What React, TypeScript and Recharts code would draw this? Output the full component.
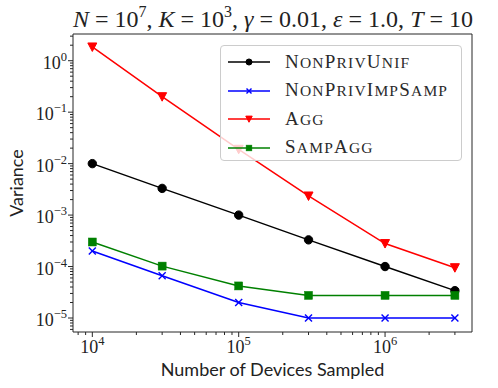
import React from "react";
import { LineChart, Line, XAxis, YAxis, Legend, ReferenceArea, Label } from "recharts";

// devices sampled (x) and the four variance series
const devices = [1e4, 3e4, 1e5, 3e5, 1e6, 3e6];
const nonPrivUnif = [1.0e-2, 3.3e-3, 1.0e-3, 3.3e-4, 1.0e-4, 3.4e-5];
const nonPrivImpSamp = [2.0e-4, 6.6e-5, 2.0e-5, 1.0e-5, 1.0e-5, 1.0e-5];
const agg = [1.85, 0.2, 0.019, 2.35e-3, 2.8e-4, 9.5e-5];
const sampAgg = [3.0e-4, 1.02e-4, 4.2e-5, 2.75e-5, 2.75e-5, 2.75e-5];

const xMajor = [1e4, 1e5, 1e6];
const yMajor = [1e-5, 1e-4, 1e-3, 1e-2, 1e-1, 1];

const xDomain: [number, number] = [Math.pow(10, 3.868), Math.pow(10, 6.594)];
const yDomain: [number, number] = [Math.pow(10, -5.272), Math.pow(10, 0.519)];

const data = devices.map((d, i) => ({
  devices: d,
  nonPrivUnif: nonPrivUnif[i],
  nonPrivImpSamp: nonPrivImpSamp[i],
  agg: agg[i],
  sampAgg: sampAgg[i],
}));

function minorTicks([lo, hi]: [number, number]) {
  const out: number[] = [];
  for (let e = Math.floor(Math.log10(lo)); e <= Math.ceil(Math.log10(hi)); e++) {
    for (let m = 2; m <= 9; m++) {
      const v = m * Math.pow(10, e);
      if (v >= lo && v <= hi) out.push(v);
    }
  }
  return out;
}

const SERIF = "'Liberation Serif', serif";
const SANS = "Lato, 'DejaVu Sans', sans-serif";
const AXIS = "#262626";

const expOf = (v: number) => Math.round(Math.log10(v));
const isMajor = (v: number) => Math.abs(v - Math.pow(10, expOf(v))) / v < 1e-6;
const expText = (e: number) => (e < 0 ? "\u2212" + Math.abs(e) : String(e));

function XTick(props: any) {
  const { x, y, payload } = props;
  const v = payload.value;
  const major = isMajor(v);
  return (
    <g>
      <line x1={x} x2={x} y1={y} y2={y + (major ? 5 : 3)} stroke={AXIS} strokeWidth={1} />
      {major && (
        <text x={x} y={y + 21} textAnchor="middle" fontFamily={SERIF} fontSize={18} fill="#222">
          10<tspan dy={-8} fontSize={12.5}>{expText(expOf(v))}</tspan>
        </text>
      )}
    </g>
  );
}

function YTick(props: any) {
  const { x, y, payload } = props;
  const v = payload.value;
  const major = isMajor(v);
  return (
    <g>
      <line x1={x} x2={x - (major ? 5 : 3)} y1={y} y2={y} stroke={AXIS} strokeWidth={1} />
      {major && (
        <text x={x - 6} y={y + 8} textAnchor="end" fontFamily={SERIF} fontSize={18} fill="#222">
          10<tspan dy={-8} fontSize={12.5}>{expText(expOf(v))}</tspan>
        </text>
      )}
    </g>
  );
}

function Marker({ kind, cx, cy, color, s = 1 }: { kind: string; cx: number; cy: number; color: string; s?: number }) {
  if (cx == null || cy == null) return null;
  if (kind === "circle") return <circle cx={cx} cy={cy} r={4.2 * s} fill={color} stroke={color} />;
  if (kind === "square")
    return <rect x={cx - 4 * s} y={cy - 4 * s} width={8 * s} height={8 * s} fill={color} stroke={color} strokeWidth={0.5} />;
  if (kind === "tri")
    return (
      <polygon
        points={`${cx - 4.5 * s},${cy - 4 * s} ${cx + 4.5 * s},${cy - 4 * s} ${cx},${cy + 4.5 * s}`}
        fill={color}
        stroke={color}
      />
    );
  return (
    <g stroke={color} strokeWidth={1.4}>
      <line x1={cx - 3.5 * s} y1={cy - 3.5 * s} x2={cx + 3.5 * s} y2={cy + 3.5 * s} />
      <line x1={cx - 3.5 * s} y1={cy + 3.5 * s} x2={cx + 3.5 * s} y2={cy - 3.5 * s} />
    </g>
  );
}

const series = [
  { key: "nonPrivUnif", name: "NonPrivUnif", color: "#000000", marker: "circle" },
  { key: "nonPrivImpSamp", name: "NonPrivImpSamp", color: "#0000ff", marker: "x" },
  { key: "agg", name: "Agg", color: "#ff0000", marker: "tri" },
  { key: "sampAgg", name: "SampAgg", color: "#008000", marker: "square" },
];

// small caps drawn by hand: capitals large, lower case as smaller capitals
function SmallCaps({ text }: { text: string }) {
  return (
    <>
      {text.split("").map((ch, i) =>
        ch === ch.toUpperCase() ? (
          <span key={i} style={{ fontSize: 19 }}>{ch}</span>
        ) : (
          <span key={i} style={{ fontSize: 15.5 }}>{ch.toUpperCase()}</span>
        )
      )}
    </>
  );
}

function LegendBox() {
  return (
    <div
      style={{
        width: 242,
        height: 116,
        boxSizing: "border-box",
        background: "rgba(255,255,255,0.8)",
        border: "1px solid #cccccc",
        borderRadius: 4,
        paddingTop: 2,
      }}
    >
      {series.map((s) => (
        <div key={s.key} style={{ display: "flex", alignItems: "center", height: 28.5 }}>
          <svg width={56} height={16} style={{ marginLeft: 6, flex: "none" }}>
            <line x1={1} x2={43} y1={8} y2={8} stroke={s.color} strokeWidth={1.5} />
            <Marker kind={s.marker} cx={22} cy={8} color={s.color} s={0.72} />
          </svg>
          <span
            style={{
              fontFamily: SERIF,
              color: "#2a2a2a",
              marginLeft: 2,
              letterSpacing: 1.2,
              whiteSpace: "nowrap",
              lineHeight: "20px",
            }}
          >
            <SmallCaps text={s.name} />
          </span>
        </div>
      ))}
    </div>
  );
}

export default function App() {
  return (
    <div style={{ position: "absolute", left: 0, top: 0, width: 498, height: 388, background: "#fff" }}>
      <div
        style={{
          position: "absolute",
          left: 40,
          top: 5,
          width: 466,
          textAlign: "center",
          fontFamily: SERIF,
          fontSize: 24,
          lineHeight: "28px",
          color: "#222",
          whiteSpace: "nowrap",
        }}
      >
        <i>N</i> = 10<span style={{ fontSize: 16, position: "relative", top: -10 }}>7</span>,{" "}
        <i>K</i> = 10<span style={{ fontSize: 16, position: "relative", top: -10 }}>3</span>, <i>γ</i> = 0.01,{" "}
        <i>ε</i> = 1.0, <i>T</i> = 10
      </div>
      <LineChart
        width={498}
        height={388}
        data={data}
        margin={{ top: 34, right: 26, left: 0, bottom: 0 }}
        style={{ position: "absolute", left: 0, top: 0 }}
      >
        <XAxis
          dataKey="devices"
          type="number"
          scale="log"
          domain={xDomain}
          allowDataOverflow
          ticks={[...xMajor, ...minorTicks(xDomain)]}
          interval={0}
          tickSize={0}
          tickMargin={0}
          tickLine={false}
          axisLine={false}
          tick={<XTick />}
          height={56}
        >
          <Label
            content={(p: any) => {
              const vb = p.viewBox;
              return (
                <text x={vb.x + vb.width / 2} y={vb.y + 44} textAnchor="middle" fontFamily={SANS} fontSize={18} fill="#222">
                  Number of Devices Sampled
                </text>
              );
            }}
          />
        </XAxis>
        <YAxis
          type="number"
          scale="log"
          domain={yDomain}
          allowDataOverflow
          ticks={[...yMajor, ...minorTicks(yDomain)]}
          interval={0}
          tickSize={0}
          tickMargin={0}
          tickLine={false}
          axisLine={false}
          tick={<YTick />}
          width={73}
        >
          <Label
            content={(p: any) => {
              const vb = p.viewBox;
              const cx = 23;
              const cy = vb.y + vb.height / 2;
              return (
                <text x={cx} y={cy} textAnchor="middle" transform={`rotate(-90, ${cx}, ${cy})`} fontFamily={SANS} fontSize={18} fill="#222">
                  Variance
                </text>
              );
            }}
          />
        </YAxis>
        <ReferenceArea
          x1={xDomain[0]}
          x2={xDomain[1]}
          y1={yDomain[0]}
          y2={yDomain[1]}
          fill="none"
          fillOpacity={0}
          stroke={AXIS}
          strokeWidth={1}
          ifOverflow="visible"
        />
        {series.map((s) => (
          <Line
            key={s.key}
            dataKey={s.key}
            name={s.name}
            stroke={s.color}
            strokeWidth={1.5}
            isAnimationActive={false}
            dot={(p: any) => <Marker key={`${s.key}-${p.index}`} kind={s.marker} cx={p.cx} cy={p.cy} color={s.color} />}
            activeDot={false}
          />
        ))}
        <Legend
          layout="horizontal"
          verticalAlign="middle"
          align="center"
          content={() => <LegendBox />}
          wrapperStyle={{ position: "absolute", left: 220, top: 45, width: 242, height: 116 }}
        />
      </LineChart>
    </div>
  );
}
